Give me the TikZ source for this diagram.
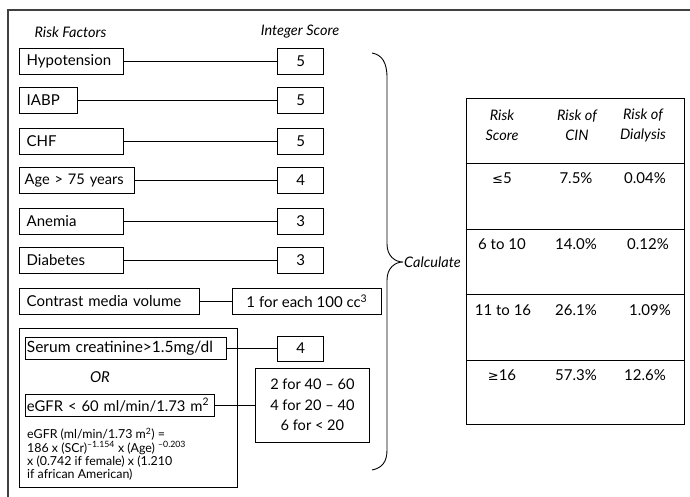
\documentclass[tikz,border=0pt]{standalone}
\usepackage{fontspec}
\setmainfont{Lato}
\newfontfamily\symf{DejaVu Sans}
\begin{document}
\begin{tikzpicture}[x=1pt,y=-1pt,
  every node/.style={font=\fontsize{15}{17}\selectfont, text=black},
  fbox/.style={draw, line width=0.8pt, anchor=west, minimum height=26pt, inner xsep=7pt, inner ysep=0pt, align=left},
  sbox/.style={draw, line width=0.8pt, anchor=west, minimum height=26pt, minimum width=46pt, inner sep=0pt},
  conn/.style={line width=0.8pt},
  hdr/.style={font=\fontsize{14.5}{20}\selectfont\itshape},
  cell/.style={font=\fontsize{15}{17}\selectfont},
  frm/.style={line width=1.6pt, draw=black!75},
  tline/.style={line width=0.9pt},
  formula/.style={font=\fontsize{12.4}{13}\selectfont, anchor=west, inner sep=0pt}
]
\useasboundingbox (0,0) rectangle (690,497);
% outer frame (partially visible)
\draw[frm] (8,497) -- (8,10) -- (690,10);

% headers
\node[hdr] (hrf) at (70.5,32) {Risk Factors};
\node[hdr] (his) at (300,32) {Integer Score};

% risk factor boxes
\node[fbox, text width=89.7pt] (hyp) at (19.3,61) {Hypotension};
\node[fbox, text width=43.7pt] (iabp) at (19.3,100.3) {IABP};
\node[fbox, text width=89.7pt] (chf) at (19.3,141.3) {CHF};
\node[fbox, inner xsep=5pt, text width=105pt, font=\fontsize{14.6}{17}\selectfont] (age) at (19.3,180.3) {\mbox{Age > 75 years}};
\node[fbox, text width=89.7pt] (ane) at (19.3,221) {Anemia};
\node[fbox, text width=89.7pt] (dia) at (19.3,260.3) {Diabetes};
\node[fbox, text width=166pt] (con) at (19.3,301.3) {Contrast media volume};

% score boxes
\node[sbox] (s1) at (277.3,61) {5};
\node[sbox] (s2) at (277.3,100.3) {5};
\node[sbox] (s3) at (277.3,141.3) {5};
\node[sbox] (s4) at (277.3,180.3) {4};
\node[sbox] (s5) at (277.3,221) {3};
\node[sbox] (s6) at (277.3,260.3) {3};
\node[sbox, minimum width=149pt] (s7) at (232,301.3) {1 for each 100 cc\textsuperscript{3}};

\draw[conn] (hyp.east) -- (s1.west);
\draw[conn] (iabp.east) -- (s2.west);
\draw[conn] (chf.east) -- (s3.west);
\draw[conn] (age.east) -- (s4.west);
\draw[conn] (ane.east) -- (s5.west);
\draw[conn] (dia.east) -- (s6.west);
\draw[conn] (con.east) -- (s7.west);

% renal group
\draw[line width=0.8pt] (19.3,328) rectangle (237,487);
\node[fbox, minimum height=22pt, inner xsep=1.5pt, text width=198pt, font=\fontsize{15.5}{17}\selectfont] (ser) at (25,348) {Serum creatinine>1.5mg/dl};
\node[sbox, minimum height=25pt] (s8) at (277.3,348.5) {4};
\draw[conn] (ser.east) -- (s8.west |- ser.east);
\node[font=\fontsize{15}{17}\selectfont\itshape] (or) at (100,377) {OR};
\node[fbox, minimum height=22pt, inner xsep=1.5pt, text width=186pt, font=\fontsize{14.8}{17}\selectfont] (egfr) at (25,405) {\mbox{eGFR < 60 ml/min/1.73 m\textsuperscript{2}}};
\node[draw, line width=0.8pt, minimum width=114pt, minimum height=74pt, align=center, anchor=west, font=\fontsize{14.6}{20.5}\selectfont] (multi) at (255,405) {2 for 40 -- 60\\4 for 20 -- 40\\6 for < 20};
\draw[conn] (egfr.east) -- (multi.west);

\node[formula] (f1) at (27,434.5) {eGFR (ml/min/1.73 m\textsuperscript{2}) =};
\node[formula] (f2) at (27,448) {186 x (SCr)\textsuperscript{--1.154} x (Age) \textsuperscript{--0.203}};
\node[formula] (f3) at (27,461.5) {x (0.742 if female) x (1.210};
\node[formula] (f4) at (27,475) {if african American)};

% brace
\draw[line width=0.9pt] (372,53) .. controls (382,55) and (387,62) .. (387,78)
  -- (387,244) .. controls (387,256) and (395,262) .. (403,262)
  .. controls (395,262) and (387,268) .. (387,280)
  -- (387,450) .. controls (387,462) and (382,468) .. (372,470);
\node[anchor=west, inner sep=0pt, font=\fontsize{14.5}{17}\selectfont\itshape] (calc) at (404,262) {Calculate};

% table
\draw[tline] (466,98) rectangle (684,424);
\draw[tline] (466,163) -- (684,163);
\draw[tline] (466,229) -- (684,229);
\draw[tline] (466,294) -- (684,294);
\draw[tline] (466,360) -- (684,360);

\node[hdr, align=center] (h1) at (502,125) {Risk\\Score};
\node[hdr, align=center] (h2) at (577,125) {Risk of\\CIN};
\node[hdr, align=center] (h3) at (643,125) {Risk of\\Dialysis};

\node[cell] (r1a) at (502,178) {{\symf\fontsize{13}{15}\selectfont ≤}5};
\node[cell] (r1b) at (576,178) {7.5\%};
\node[cell] (r1c) at (645,178) {0.04\%};
\node[cell] (r2a) at (502,244) {6 to 10};
\node[cell] (r2b) at (576,244) {14.0\%};
\node[cell] (r2c) at (648,244) {0.12\%};
\node[cell] (r3a) at (503,310) {11 to 16};
\node[cell] (r3b) at (576,310) {26.1\%};
\node[cell] (r3c) at (650,310) {1.09\%};
\node[cell] (r4a) at (502,375) {{\symf\fontsize{13}{15}\selectfont ≥}16};
\node[cell] (r4b) at (576,375) {57.3\%};
\node[cell] (r4c) at (645,375) {12.6\%};
\end{tikzpicture}
\end{document}
